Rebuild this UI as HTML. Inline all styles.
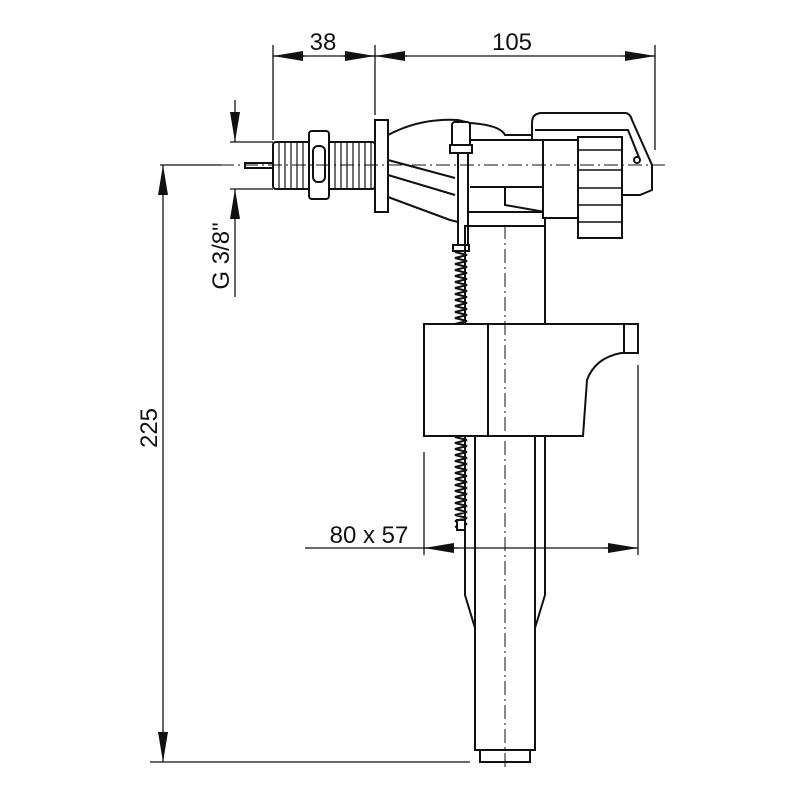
<!DOCTYPE html>
<html><head><style>body{margin:0;background:#fff}svg{display:block}</style></head><body>
<svg width="800" height="800" viewBox="0 0 800 800" xmlns="http://www.w3.org/2000/svg" font-family="Liberation Sans, sans-serif">
<defs>
<marker id="a" viewBox="0 0 30 10" refX="30" refY="5" markerWidth="30" markerHeight="10" markerUnits="userSpaceOnUse" orient="auto"><path d="M0,0L30,5L0,10z" fill="#111"/></marker>
</defs>
<g stroke="#111" stroke-width="2" fill="#fff">
<!-- pin -->
<rect x="245" y="163" width="28" height="5"/>
<!-- threads -->
<rect x="273" y="142" width="102" height="47" rx="3"/>
<g stroke-width="1.2">
<line x1="279" y1="143" x2="279" y2="188"/><line x1="285" y1="143" x2="285" y2="188"/><line x1="291" y1="143" x2="291" y2="188"/><line x1="297" y1="143" x2="297" y2="188"/><line x1="303" y1="143" x2="303" y2="188"/>
<line x1="335" y1="143" x2="335" y2="188"/><line x1="341" y1="143" x2="341" y2="188"/><line x1="347" y1="143" x2="347" y2="188"/><line x1="353" y1="143" x2="353" y2="188"/><line x1="359" y1="143" x2="359" y2="188"/><line x1="365" y1="143" x2="365" y2="188"/><line x1="371" y1="143" x2="371" y2="188"/>
</g>
<rect x="309" y="131" width="20" height="68" rx="3"/>
<rect x="313" y="146" width="12" height="36" rx="5"/>
<!-- body cone -->
<path d="M388,135 Q420,118 458,120 L470,123 Q500,125 505,135 L545,135 L545,215 L470,225 L450,220 L388,197 Z"/>
<path d="M388,160 L455,178 M388,175 L455,195" fill="none"/>
<line x1="470" y1="140" x2="545" y2="140"/><line x1="470" y1="187" x2="545" y2="187"/>
<path d="M505,187 L505,205 L545,212" fill="none"/>
<rect x="375" y="120" width="13" height="92"/>
<!-- tube top collar -->
<rect x="465" y="212" width="80" height="14"/>
<!-- head -->
<path d="M532,123 Q532,113 542,113 L625,113 Q630,113 632,120 L652,165 L652,190 L640,195 L622,195 L622,238 L578,238 L578,218 L543,218 L543,140 L532,140 Z"/>
<path d="M535,130 L628,130 L640,160" fill="none"/>
<rect x="543" y="140" width="35" height="78"/>
<rect x="578" y="137" width="44" height="101"/>
<g stroke-width="1.5"><line x1="578" y1="150" x2="622" y2="150"/><line x1="578" y1="170" x2="622" y2="170"/><line x1="578" y1="188" x2="622" y2="188"/><line x1="578" y1="205" x2="622" y2="205"/><line x1="578" y1="222" x2="622" y2="222"/></g>
<circle cx="637" cy="160" r="3"/>
<!-- rod -->
<rect x="458" y="150" width="10" height="100"/>
<rect x="452" y="122" width="18" height="28" rx="3"/>
<rect x="450" y="145" width="22" height="8"/>
<rect x="453" y="245" width="16" height="6"/>
<!-- tube -->
<path d="M465,226 L465,595 L475,628 L475,750 L535,750 L535,628 L545,595 L545,226 Z" fill="none"/>
<line x1="475" y1="436" x2="475" y2="628"/><line x1="535" y1="436" x2="535" y2="628"/>
<rect x="480" y="750" width="50" height="12" fill="none"/>
<!-- float -->
<path d="M424,324 L638,324 L638,353 L621,353 Q595,358 587,380 L583,436 L424,436 Z"/>
<line x1="488" y1="324" x2="488" y2="436"/>
<line x1="624" y1="324" x2="624" y2="353"/>
</g>
<!-- springs -->
<g stroke="#111" stroke-width="2" fill="none">
<path d="M455,252 l12,3 l-12,3 l12,3 l-12,3 l12,3 l-12,3 l12,3 l-12,3 l12,3 l-12,3 l12,3 l-12,3 l12,3 l-12,3 l12,3 l-12,3 l12,3 l-12,3 l12,3 l-12,3 l12,3 l-12,3 l12,3 l-12,3"/>
<path d="M455,437 l12,3 l-12,3 l12,3 l-12,3 l12,3 l-12,3 l12,3 l-12,3 l12,3 l-12,3 l12,3 l-12,3 l12,3 l-12,3 l12,3 l-12,3 l12,3 l-12,3 l12,3 l-12,3 l12,3 l-12,3 l12,3 l-12,3 l12,3 l-12,3 l12,3 l-12,3 l12,3 l-12,3"/>
<rect x="457" y="520" width="8" height="10" fill="#fff"/>
</g>
<g stroke="#111" stroke-width="1.3" fill="none">
<!-- top dims -->
<line x1="273" y1="45" x2="273" y2="140"/><line x1="375" y1="45" x2="375" y2="115"/><line x1="655" y1="45" x2="655" y2="150"/>
<line x1="273" y1="56" x2="655" y2="56"/>
<line x1="305" y1="56" x2="273" y2="56" marker-end="url(#a)"/>
<line x1="343" y1="56" x2="375" y2="56" marker-end="url(#a)"/>
<line x1="407" y1="56" x2="375" y2="56" marker-end="url(#a)"/>
<line x1="623" y1="56" x2="655" y2="56" marker-end="url(#a)"/>
<!-- G 3/8 -->
<line x1="230" y1="142" x2="273" y2="142"/><line x1="230" y1="189" x2="273" y2="189"/>
<line x1="235" y1="100" x2="235" y2="142" marker-end="url(#a)"/>
<line x1="235" y1="297" x2="235" y2="189" marker-end="url(#a)"/>
<!-- 225 -->
<line x1="160" y1="165" x2="222" y2="165"/><line x1="150" y1="762" x2="470" y2="762"/>
<line x1="163" y1="400" x2="163" y2="165" marker-end="url(#a)"/>
<line x1="163" y1="400" x2="163" y2="762" marker-end="url(#a)"/>
<!-- 80x57 -->
<line x1="424" y1="452" x2="424" y2="555"/><line x1="638" y1="365" x2="638" y2="555"/>
<line x1="305" y1="548" x2="638" y2="548"/>
<line x1="458" y1="548" x2="424" y2="548" marker-end="url(#a)"/>
<line x1="604" y1="548" x2="638" y2="548" marker-end="url(#a)"/>
<!-- center lines -->
<line x1="220" y1="165" x2="665" y2="165" stroke-dasharray="14,4,2,4" stroke-width="1"/>
<line x1="505" y1="225" x2="505" y2="770" stroke-dasharray="14,4,2,4" stroke-width="1"/>
</g>
<g fill="#111" font-size="24">
<text x="323" y="50" text-anchor="middle">38</text>
<text x="512" y="50" text-anchor="middle">105</text>
<text x="369" y="543" text-anchor="middle">80 x 57</text>
<text transform="translate(157,428) rotate(-90)" text-anchor="middle">225</text>
<text transform="translate(229,256) rotate(-90)" text-anchor="middle">G 3/8"</text>
</g>
</svg>
</body></html>
